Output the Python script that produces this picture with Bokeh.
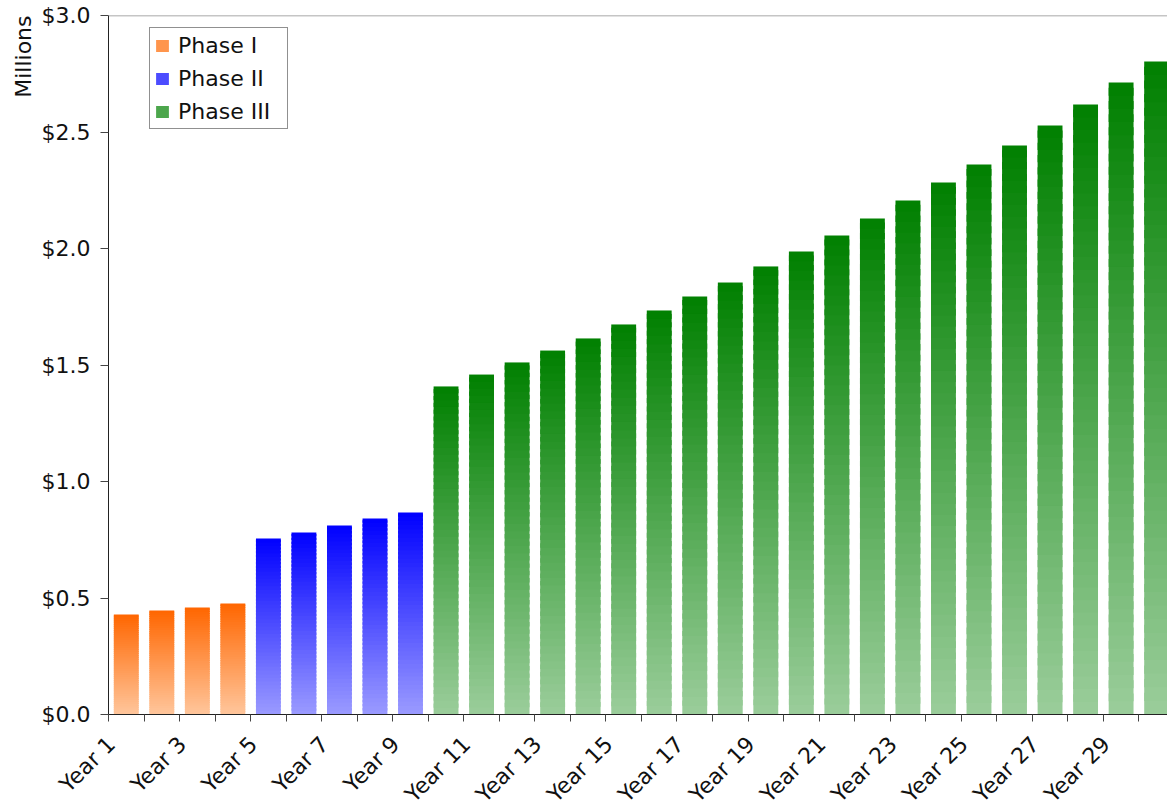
import numpy as np
from bokeh.plotting import figure
from bokeh.models import (Range1d, FixedTicker, NumeralTickFormatter, ColumnDataSource,
                          Legend, LegendItem, Title, Span, CustomJSTickFormatter)
from bokeh.embed import file_html
from bokeh.resources import INLINE

# ---- data ----
years = [f"Year {i}" for i in range(1, 31)]
phase1 = [0.429, 0.446, 0.459, 0.476]
phase2 = [0.755, 0.781, 0.811, 0.841, 0.867]
phase3 = [1.408, 1.459, 1.511, 1.562, 1.614, 1.674, 1.734, 1.794, 1.854, 1.923,
          1.987, 2.056, 2.129, 2.206, 2.283, 2.361, 2.442, 2.528, 2.618, 2.712, 2.803]
phase_names = ["Phase I", "Phase II", "Phase III"]
y_ticks = [0.0, 0.5, 1.0, 1.5, 2.0, 2.5, 3.0]

# gradient colours (top, bottom)
grad = {
    "Phase I": ((255, 102, 0), (255, 198, 156)),
    "Phase II": ((0, 0, 255), (155, 155, 255)),
    "Phase III": ((0, 128, 0), (155, 205, 155)),
}

FONT = "DejaVu Sans"
FS = "22px"
N = 48
OVERLAP = 0.6
LABEL_SHIFT = 0.42  # style: rotated labels sit slightly left of bar centres

p = figure(frame_width=1059, frame_height=699, output_backend="svg", toolbar_location=None,
           x_range=Range1d(0.5, 0.5 + 1059 / 35.53), y_range=Range1d(0, 3.0),
           min_border_left=108, min_border_top=15, min_border_right=0, min_border_bottom=94,
           background_fill_color="white", border_fill_color="white")
p.outline_line_color = None
p.grid.visible = False

def hexc(c):
    return "#%02x%02x%02x" % tuple(int(round(v)) for v in c)

renderers = []
start = 1
for name, vals in zip(phase_names, [phase1, phase2, phase3]):
    top_c, bot_c = grad[name]
    xs, bs, ts, cs = [], [], [], []
    for j in range(N):
        t = (j + 0.5) / N
        c = hexc([bot_c[m] + (top_c[m] - bot_c[m]) * t for m in range(3)])
        for k, v in enumerate(vals):
            xs.append(start + k)
            bs.append(v * j / N)
            ts.append(min(v, v * (j + 1 + OVERLAP) / N))
            cs.append(c)
    src = ColumnDataSource(dict(x=xs, bottom=bs, top=ts, color=cs))
    r = p.vbar(x="x", bottom="bottom", top="top", width=0.70, source=src,
               fill_color="color", line_color=None)
    renderers.append(r)
    start += len(vals)

# top border line
p.add_layout(Span(location=3.0, dimension="width", line_color="#8c8c8c", line_width=1.5))

# axes
p.yaxis.ticker = FixedTicker(ticks=y_ticks)
p.yaxis.formatter = NumeralTickFormatter(format="$0.0")
p.yaxis.major_tick_out = 8
p.yaxis.major_tick_in = 0
p.yaxis.minor_tick_out = 0
p.yaxis.minor_tick_in = 0
p.yaxis.major_label_standoff = 10
p.yaxis.major_label_text_font = FONT
p.yaxis.major_label_text_font_size = FS
p.yaxis.major_label_text_color = "#111111"
p.yaxis.axis_line_color = "#222222"
p.yaxis.major_tick_line_color = "#444444"

p.xaxis.ticker = FixedTicker(ticks=[i - LABEL_SHIFT for i in range(1, 31, 2)],
                             minor_ticks=[i + 0.5 for i in range(0, 31)])
p.xaxis.formatter = CustomJSTickFormatter(args=dict(labels=years, shift=LABEL_SHIFT),
                                          code="return labels[Math.round(tick + shift) - 1];")
p.xaxis.major_tick_out = 0
p.xaxis.major_tick_in = 0
p.xaxis.minor_tick_out = 7
p.xaxis.minor_tick_in = 0
p.xaxis.minor_tick_line_color = "#444444"
p.xaxis.major_label_orientation = np.pi / 4
p.xaxis.major_label_standoff = 19
p.xaxis.major_label_text_font = FONT
p.xaxis.major_label_text_font_size = FS
p.xaxis.major_label_text_color = "#111111"
p.xaxis.axis_line_color = "#222222"

p.add_layout(Title(text="Millions", align="right", text_font=FONT, text_font_size=FS,
                   text_font_style="normal", text_color="#111111", standoff=6), "left")

legend = Legend(items=[LegendItem(label=n, renderers=[r], index=len(v) * (N // 2))
                       for n, r, v in zip(phase_names, renderers, [phase1, phase2, phase3])],
                location=(41, 585), label_text_font=FONT, label_text_font_size=FS,
                label_text_color="#111111", glyph_width=16, glyph_height=15,
                label_height=26, label_width=105, spacing=7, padding=4, label_standoff=8,
                border_line_color="#222222", border_line_width=1,
                background_fill_color="white", background_fill_alpha=1.0, margin=0)
p.add_layout(legend)

open("out.html", "w").write(file_html(p, INLINE))
